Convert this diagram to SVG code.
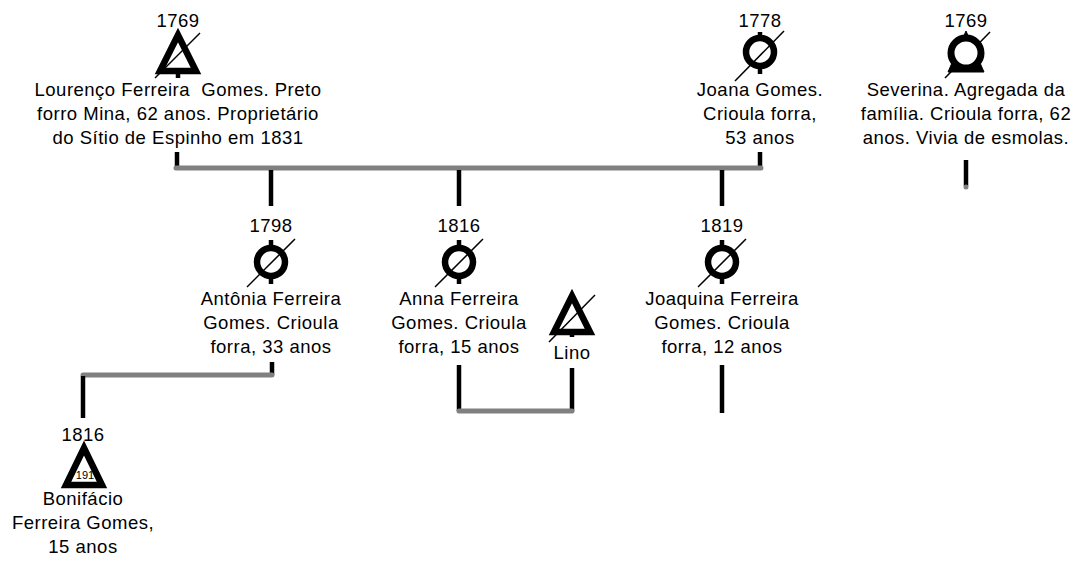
<svg xmlns="http://www.w3.org/2000/svg" width="1087" height="564" viewBox="0 0 1087 564">
<style>
text{font-family:"Liberation Sans",Arial,sans-serif;font-size:18.5px;letter-spacing:0.5px;fill:#000;text-anchor:middle;white-space:pre}
.k{stroke:#000;stroke-width:4.5;fill:none}
.g{stroke:#808080;stroke-width:5;fill:none;stroke-linecap:round}
.sym{stroke:#000;stroke-width:6.5;fill:#fff;stroke-linejoin:miter}
.sl{stroke:#000;stroke-width:1.5}
</style>
<rect width="1087" height="564" fill="#fff"/>
<g id="connectors">
<line class="k" x1="178" y1="72" x2="178" y2="78"/>
<line class="k" x1="177" y1="152" x2="177" y2="168"/>
<line class="k" x1="760" y1="152" x2="760" y2="168"/>
<line class="g" x1="176" y1="168" x2="761" y2="168"/>
<line class="k" x1="271" y1="170" x2="271" y2="206"/>
<line class="k" x1="459" y1="170" x2="459" y2="206"/>
<line class="k" x1="722" y1="170" x2="722" y2="206"/>
<line class="k" x1="272" y1="362" x2="272" y2="375"/>
<line class="g" x1="83" y1="375" x2="272" y2="375"/>
<line class="k" x1="83" y1="376" x2="83" y2="418"/>
<line class="k" x1="459" y1="365" x2="459" y2="411"/>
<line class="k" x1="572" y1="368" x2="572" y2="411"/>
<line class="g" x1="459" y1="411" x2="572" y2="411"/>
<line class="k" x1="722" y1="365" x2="722" y2="413"/>
<line class="k" x1="966" y1="160" x2="966" y2="186"/>
<circle cx="966" cy="187" r="2.5" fill="#808080"/>
</g>
<g id="lourenco">
<text x="178" y="27">1769</text>
<polygon class="sym" points="178,35 160,71 196,71"/>
<line class="sl" x1="155" y1="78" x2="200" y2="33"/>
<text x="178" y="96" xml:space="preserve">Lourenço Ferreira  Gomes. Preto</text>
<text x="178" y="120">forro Mina, 62 anos. Proprietário</text>
<text x="178" y="144">do Sítio de Espinho em 1831</text>
</g>
<g id="joana">
<text x="760" y="27">1778</text>
<line class="k" x1="760" y1="32" x2="760" y2="74"/>
<circle class="sym" cx="760" cy="52" r="14"/>
<line class="sl" x1="735" y1="81" x2="784" y2="31"/>
<text x="760" y="96">Joana Gomes.</text>
<text x="760" y="120">Crioula forra,</text>
<text x="760" y="144">53 anos</text>
</g>
<g id="severina">
<text x="966" y="27">1769</text>
<polygon points="966,31 948,72 984,72" fill="#000" stroke="#000" stroke-width="1" stroke-linejoin="round"/>
<line class="sl" x1="945" y1="78" x2="990" y2="32"/>
<circle cx="966" cy="53" r="15" fill="#fff" stroke="#000" stroke-width="7"/>
<text x="966" y="96">Severina. Agregada da</text>
<text x="966" y="120">família. Crioula forra, 62</text>
<text x="966" y="144">anos. Vivia de esmolas.</text>
</g>
<g id="antonia">
<text x="271" y="232">1798</text>
<line class="k" x1="271" y1="240" x2="271" y2="284"/>
<circle class="sym" cx="271" cy="262" r="14"/>
<line class="sl" x1="247" y1="287" x2="295" y2="239"/>
<text x="271" y="305">Antônia Ferreira</text>
<text x="271" y="329">Gomes. Crioula</text>
<text x="271" y="353">forra, 33 anos</text>
</g>
<g id="anna">
<text x="459" y="232">1816</text>
<line class="k" x1="459" y1="240" x2="459" y2="284"/>
<circle class="sym" cx="459" cy="262" r="14"/>
<line class="sl" x1="435" y1="287" x2="483" y2="239"/>
<text x="459" y="305">Anna Ferreira</text>
<text x="459" y="329">Gomes. Crioula</text>
<text x="459" y="353">forra, 15 anos</text>
</g>
<g id="lino">
<polygon class="sym" points="572,296 554,332 590,332"/>
<line class="k" x1="572" y1="332" x2="572" y2="337"/>
<line class="sl" x1="549" y1="342" x2="595" y2="295"/>
<text x="572" y="359">Lino</text>
</g>
<g id="joaquina">
<text x="722" y="232">1819</text>
<line class="k" x1="722" y1="240" x2="722" y2="284"/>
<circle class="sym" cx="722" cy="262" r="14"/>
<line class="sl" x1="698" y1="287" x2="746" y2="239"/>
<text x="722" y="305">Joaquina Ferreira</text>
<text x="722" y="329">Gomes. Crioula</text>
<text x="722" y="353">forra, 12 anos</text>
</g>
<g id="bonifacio">
<text x="83" y="441">1816</text>
<polygon class="sym" points="84,448 66,485 102,485"/>
<text x="85" y="479" style="font-size:11px;letter-spacing:0">191</text>
<text x="83" y="505">Bonifácio</text>
<text x="83" y="529">Ferreira Gomes,</text>
<text x="83" y="553">15 anos</text>
</g>
</svg>
